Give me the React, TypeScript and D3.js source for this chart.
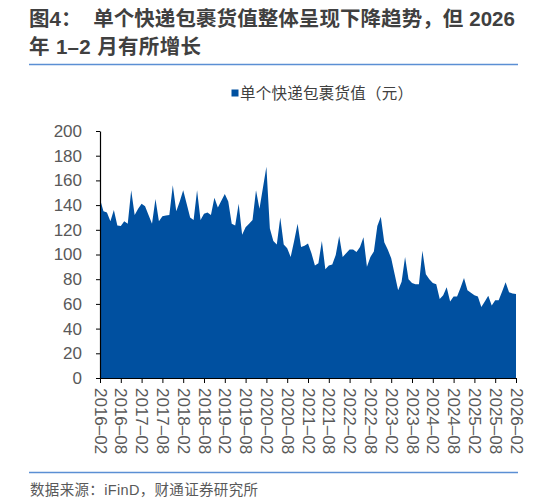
import React, { useEffect, useRef } from 'react';
import * as d3 from 'd3';

const titleLine1 = '图4：  单个快递包裹货值整体呈现下降趋势，但 2026';
const titleLine2 = '年 1–2 月有所增长';
const seriesName = '单个快递包裹货值（元）';
const sourceNote = '数据来源：iFinD，财通证券研究所';

// monthly values, 2016-02 … 2026-02
const parcelValue = [
  145, 135, 134, 127, 136, 123.5, 123, 127, 125, 152, 132, 137, // 2016-02 … 2017-01
  141, 139, 132, 125, 145, 127, 131, 131.5, 132, 156, 135, 143, // 2017-02 … 2018-01
  152, 141, 130, 128, 152, 128, 133, 134, 132, 146, 138, 143.5, // 2018-02 … 2019-01
  149, 143, 125, 123.5, 141, 116, 122, 125, 128, 152, 137, 154, // 2019-02 … 2020-01
  171, 121, 111, 108, 130, 108, 105, 98, 111, 125, 106, 107, // 2020-02 … 2021-01
  109, 101, 91, 93, 111, 88, 91, 92, 99.5, 115, 98, 101, // 2021-02 … 2022-01
  104, 104, 102, 106, 114, 90, 98, 102.5, 123, 130.5, 110, 104, // 2022-02 … 2023-01
  97, 84, 71, 78, 98, 80, 77, 76, 76, 103, 84, 80, // 2023-02 … 2024-01
  77, 76, 64, 67, 73.5, 62, 66, 66, 73, 81, 71, 69, // 2024-02 … 2025-01
  67, 66, 57.5, 62, 66.5, 58.7, 63, 63, 70, 77.6, 69.5, 68.5, // 2025-02 … 2026-01
  68, // 2026-02
];

const tickLabels = [
  '2016-02', '2016-08', '2017-02', '2017-08', '2018-02', '2018-08', '2019-02',
  '2019-08', '2020-02', '2020-08', '2021-02', '2021-08', '2022-02', '2022-08',
  '2023-02', '2023-08', '2024-02', '2024-08', '2025-02', '2025-08', '2026-02',
];

const yTicks = [0, 20, 40, 60, 80, 100, 120, 140, 160, 180, 200];

const W = 533;
const H = 503;
const BLUE = '#0050a0';
const RULE = '#5b8fd4';
const LATIN_CJK = '"Liberation Sans", "Noto Sans CJK SC", sans-serif';

function App() {
  const svgRef = useRef<SVGSVGElement>(null);

  useEffect(() => {
    document.body.style.margin = '0';
    const svg = d3.select(svgRef.current);
    svg.selectAll('*').remove();

    const x = d3.scaleLinear().domain([0, parcelValue.length - 1]).range([100, 516]);
    const y = d3.scaleLinear().domain([0, 200]).range([378, 131]);

    // title
    svg.append('text')
      .attr('x', 29).attr('y', 26)
      .attr('textLength', 486).attr('lengthAdjust', 'spacing')
      .style('white-space', 'pre')
      .attr('font-family', LATIN_CJK).attr('font-size', 20.5).attr('font-weight', 'bold')
      .attr('fill', '#404040')
      .text(titleLine1);
    svg.append('text')
      .attr('x', 29).attr('y', 54)
      .attr('textLength', 172).attr('lengthAdjust', 'spacing')
      .style('white-space', 'pre')
      .attr('font-family', LATIN_CJK).attr('font-size', 20.5).attr('font-weight', 'bold')
      .attr('fill', '#404040')
      .text(titleLine2);

    svg.append('line')
      .attr('x1', 29).attr('x2', 518).attr('y1', 64.5).attr('y2', 64.5)
      .attr('stroke', RULE).attr('stroke-width', 1.5);

    // legend
    svg.append('rect')
      .attr('x', 231.5).attr('y', 89.5).attr('width', 7).attr('height', 7)
      .attr('fill', BLUE);
    svg.append('text')
      .attr('x', 240).attr('y', 93).attr('dy', '0.36em')
      .attr('textLength', 173).attr('lengthAdjust', 'spacing')
      .attr('font-family', LATIN_CJK).attr('font-size', 15.5)
      .attr('fill', '#404040')
      .text(seriesName);

    // area
    const area = d3.area<number>()
      .x((_, i) => x(i))
      .y0(y(0))
      .y1((d) => y(d));
    svg.append('path')
      .datum(parcelValue)
      .attr('d', area)
      .attr('fill', BLUE);

    // y axis
    const yAxis = svg.append('g')
      .attr('transform', 'translate(100,0)')
      .call(d3.axisLeft(y).tickValues(yTicks).tickSize(4).tickSizeOuter(0).tickPadding(14));
    yAxis.select('.domain').attr('stroke', '#000').attr('stroke-width', 1.2);
    yAxis.selectAll('.tick line').attr('stroke', '#000');
    yAxis.selectAll('.tick text')
      .attr('font-family', LATIN_CJK).attr('font-size', 17).attr('fill', '#595959');

    // x axis
    const tickIdx = tickLabels.map((_, i) => i * 6);
    const xAxis = svg.append('g')
      .attr('transform', 'translate(0,378)')
      .call(
        d3.axisBottom(x)
          .tickValues(tickIdx)
          .tickSize(5)
          .tickSizeOuter(0)
          .tickFormat((_, i) => tickLabels[i].replace('-', '–'))
      );
    xAxis.select('.domain').attr('stroke', '#000').attr('stroke-width', 1.2);
    xAxis.selectAll('.tick line').attr('stroke', '#000');
    xAxis.selectAll('.tick text')
      .attr('font-family', LATIN_CJK).attr('font-size', 17).attr('fill', '#595959')
      .attr('text-anchor', 'start')
      .attr('transform', 'rotate(90)')
      .attr('x', 10).attr('y', 0).attr('dy', '0.35em');

    // footer
    svg.append('line')
      .attr('x1', 29).attr('x2', 518).attr('y1', 472.5).attr('y2', 472.5)
      .attr('stroke', RULE).attr('stroke-width', 1.5);
    svg.append('text')
      .attr('x', 30).attr('y', 495)
      .attr('textLength', 228).attr('lengthAdjust', 'spacing')
      .attr('font-family', LATIN_CJK).attr('font-size', 14.5)
      .attr('fill', '#595959')
      .text(sourceNote);
  }, []);

  return (
    <svg ref={svgRef} width={W} height={H} style={{ display: 'block', background: '#fff' }} />
  );
}

export default App;
